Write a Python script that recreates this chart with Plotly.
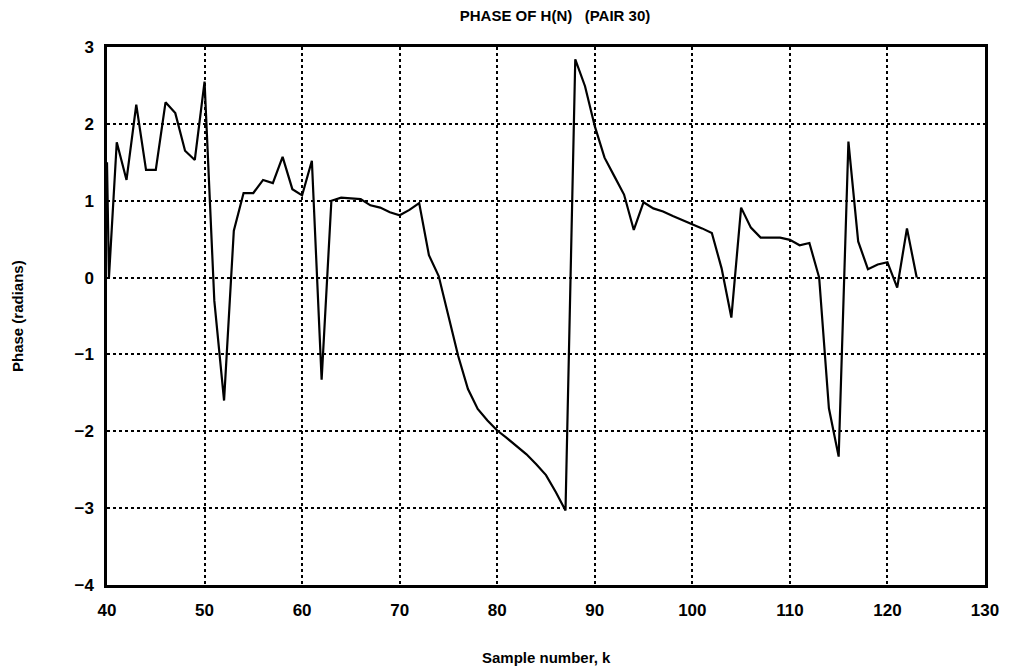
import plotly.graph_objects as go

# Sample numbers (k) and phase values (radians)
k = [40, 40.2, 41, 42, 43, 44, 45, 46, 47, 48, 49, 50, 51, 52, 53, 54, 55, 56, 57,
     58, 59, 60, 61, 62, 63, 64, 65, 66, 67, 68, 69, 70, 71, 72, 73, 74, 75,
     76, 77, 78, 79, 80, 81, 82, 83, 84, 85, 86, 87, 88, 89, 90, 91, 92, 93,
     94, 95, 96, 97, 98, 99, 100, 101, 102, 103, 104, 105, 106, 107, 108, 109,
     110, 111, 112, 113, 114, 115, 116, 117, 118, 119, 120, 121, 122, 123]
phase = [1.50, 0.00, 1.76, 1.27, 2.25, 1.40, 1.40, 2.28, 2.14, 1.65, 1.53, 2.55,
         -0.30, -1.60, 0.61, 1.10, 1.10, 1.27, 1.23, 1.57, 1.15, 1.07, 1.52,
         -1.33, 1.00, 1.04, 1.03, 1.02, 0.94, 0.91, 0.85, 0.81, 0.88, 0.97,
         0.29, 0.02, -0.50, -1.02, -1.45, -1.71, -1.86, -1.99, -2.09, -2.20,
         -2.30, -2.43, -2.57, -2.79, -3.03, 2.84, 2.49, 1.97, 1.56, 1.32, 1.08,
         0.62, 0.98, 0.90, 0.86, 0.80, 0.75, 0.69, 0.64, 0.58, 0.12, -0.52,
         0.91, 0.65, 0.52, 0.52, 0.52, 0.49, 0.42, 0.45, 0.00, -1.70, -2.33,
         1.77, 0.47, 0.11, 0.17, 0.20, -0.13, 0.64, 0.00]

x_ticks = [40, 50, 60, 70, 80, 90, 100, 110, 120, 130]
y_ticks = [-4, -3, -2, -1, 0, 1, 2, 3]

font_family = "Liberation Sans"

fig = go.Figure()
fig.add_trace(go.Scatter(
    x=k, y=phase, mode="lines",
    line=dict(color="black", width=2.2),
    showlegend=False,
))

axis_common = dict(
    showline=True, linecolor="black", linewidth=2.5, mirror=True,
    showgrid=True, gridcolor="black", gridwidth=1.8, griddash="dot",
    zeroline=False, ticks="",
    tickfont=dict(family=font_family, size=17, color="black", weight="bold"),
)

fig.update_xaxes(range=[40, 130], tickvals=x_ticks, ticklabelstandoff=8, **axis_common)
fig.update_yaxes(range=[-4, 3], tickvals=y_ticks, ticklabelstandoff=7, **axis_common)

fig.update_layout(
    width=1011, height=668,
    margin=dict(l=107, r=24, t=47, b=83),
    paper_bgcolor="white", plot_bgcolor="white",
    title=dict(text="PHASE OF H(N)   (PAIR 30)", x=0.549, xanchor="center",
               y=1 - 16 / 668, yanchor="middle", yref="container",
               font=dict(family=font_family, size=15, color="black", weight="bold")),
    annotations=[
        dict(text="Sample number, k", xref="paper", yref="paper", x=0.5, y=0,
             yanchor="middle", yshift=-72, showarrow=False,
             font=dict(family=font_family, size=15, color="black", weight="bold")),
        dict(text="Phase (radians)", xref="paper", yref="paper", x=0, y=0.5,
             xanchor="center", xshift=-90, textangle=-90, showarrow=False,
             font=dict(family=font_family, size=15, color="black", weight="bold")),
    ],
)

fig.write_html("out.html")
